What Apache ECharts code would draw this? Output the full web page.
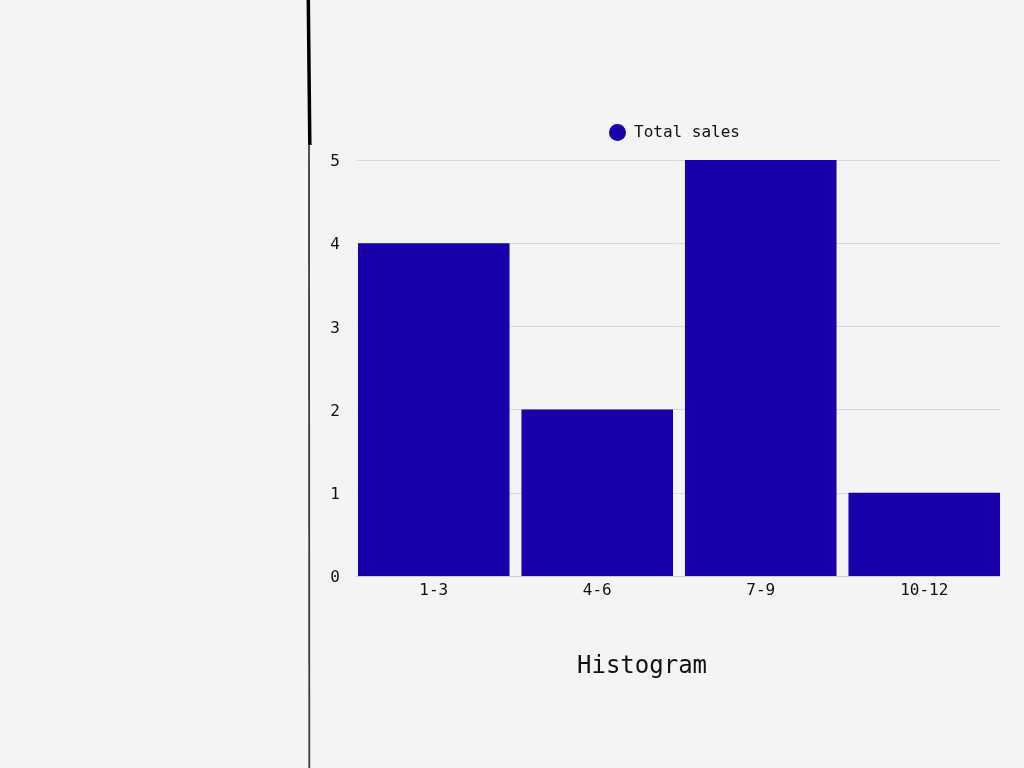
<!DOCTYPE html>
<html>
<head>
<meta charset="utf-8">
<script src="https://cdn.jsdelivr.net/npm/echarts@6/dist/echarts.min.js"></script>
<style>
html,body{margin:0;padding:0;background:#f4f4f4;}
#c{width:1024px;height:768px;}
</style>
</head>
<body>
<div id="c"></div>
<script>
var categories = ['1-3', '4-6', '7-9', '10-12'];
var totalSales = [4, 2, 5, 1];
var yTicks = [0, 1, 2, 3, 4, 5];

var FONT = '"DejaVu Sans Mono", "Liberation Mono", monospace';
var chart = echarts.init(document.getElementById('c'));
chart.setOption({
  backgroundColor: '#f4f4f4',
  animation: false,
  title: {
    text: 'Histogram',
    left: 572, top: 650,
    textStyle: { fontFamily: FONT, fontSize: 24, fontWeight: 'normal', color: '#111' }
  },
  legend: {
    data: ['Total sales'],
    top: 119,
    left: 604,
    icon: 'circle', itemWidth: 17, itemHeight: 17, itemGap: 7,
    textStyle: { fontFamily: FONT, fontSize: 16, color: '#111', padding: [0, 0, 0, 3] }
  },
  graphic: [
    { type: 'line', shape: { x1: 309, y1: 145, x2: 309.3, y2: 768 }, style: { stroke: '#3a3a3a', lineWidth: 1.8 } },
    { type: 'line', shape: { x1: 308.3, y1: 0, x2: 309.8, y2: 145 }, style: { stroke: '#000', lineWidth: 3.5 } }
  ],
  grid: [
    { left: 357, right: 24, top: 160, bottom: 192 },
    { left: 352, right: 18, top: 160, bottom: 192 }
  ],
  xAxis: [
    { type: 'category', gridIndex: 0, data: categories,
      axisLine: { show: true, lineStyle: { color: '#cccccc', width: 1 } },
      axisTick: { show: false }, axisLabel: { show: false }, splitLine: { show: false } },
    { type: 'category', gridIndex: 1, data: categories,
      axisLine: { show: false }, axisTick: { show: false },
      axisLabel: { fontFamily: FONT, fontSize: 16, color: '#111', margin: 7 } }
  ],
  yAxis: [
    { type: 'value', gridIndex: 0, min: 0, max: 5, interval: 1,
      axisLine: { show: false }, axisTick: { show: false },
      axisLabel: { fontFamily: FONT, fontSize: 16, color: '#111', margin: 17,
        verticalAlign: 'top', lineHeight: 4,
        formatter: function (v) { return yTicks.indexOf(v) >= 0 ? String(v) : ''; } },
      splitLine: { lineStyle: { color: '#d9d9d9', width: 1 } } },
    { type: 'value', gridIndex: 1, min: 0, max: 5, interval: 1, show: false }
  ],
  series: [
    { name: 'Total sales', type: 'bar', xAxisIndex: 1, yAxisIndex: 1,
      data: totalSales, barCategoryGap: '7.3%',
      itemStyle: { color: '#1800aa' } }
  ]
});
</script>
</body>
</html>
